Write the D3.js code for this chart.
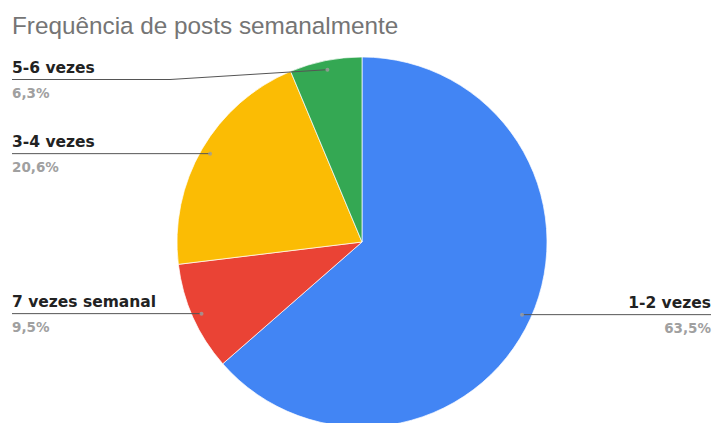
<!DOCTYPE html>
<html>
<head>
<meta charset="utf-8">
<script src="https://cdn.jsdelivr.net/npm/d3@7"></script>
<style>
  html, body { margin: 0; padding: 0; background: #fff; }
  svg { display: block; }
</style>
</head>
<body>
<svg id="chart" width="714" height="423"></svg>
<script>
// Weekly posting frequency
const categories = ["1-2 vezes", "7 vezes semanal", "3-4 vezes", "5-6 vezes"];
const values = [63.5, 9.5, 20.6, 6.3];
const colors = ["#4285F4", "#EA4335", "#FBBC04", "#34A853"];
const title = "Frequência de posts semanalmente";

const W = 714, H = 423;
const cx = 362, cy = 242, R = 185;
const labelLeftX = 12, labelRightX = 711;
const labelMinY = 79.5;      // label lines are kept below the title band
const elbowX = 170;          // where a raised leader bends toward its slice

const svg = d3.select("#chart");

svg.append("text")
  .attr("x", 12).attr("y", 34)
  .attr("fill", "#757575")
  .style("font-family", "'Liberation Sans', Arial, sans-serif")
  .style("font-size", "24.3px")
  .text(title);

const pie = d3.pie().sort(null).value(d => d.value);
const data = categories.map((c, i) => ({ name: c, value: values[i], color: colors[i] }));
const arcs = pie(data);

const arc = d3.arc().innerRadius(0).outerRadius(R);
const dotArc = d3.arc().innerRadius(R * 0.95).outerRadius(R * 0.95);

const g = svg.append("g").attr("transform", `translate(${cx},${cy})`);

g.selectAll("path.slice")
  .data(arcs)
  .join("path")
  .attr("class", "slice")
  .attr("d", arc)
  .attr("fill", d => d.data.color)
  .attr("stroke", "#fff")
  .attr("stroke-width", 0.7);

const fmt = v => d3.format(".1f")(v).replace(".", ",") + "%";

arcs.forEach(a => {
  const [dx, dy] = dotArc.centroid(a);
  const px = cx + dx, py = cy + dy;
  const mid = (a.startAngle + a.endAngle) / 2;
  const right = mid < Math.PI;
  const ly = Math.max(py, labelMinY);

  let pts;
  if (right) {
    pts = [[px, py], [labelRightX, ly]];
  } else if (ly !== py) {
    pts = [[px, py], [elbowX, ly], [labelLeftX, ly]];
  } else {
    pts = [[px, py], [labelLeftX, ly]];
  }

  svg.append("path")
    .attr("d", d3.line()(pts))
    .attr("fill", "none")
    .attr("stroke", "#555")
    .attr("stroke-width", 1);

  svg.append("circle")
    .attr("cx", px).attr("cy", py).attr("r", 2)
    .attr("fill", "#9e9e9e")
    .attr("opacity", 0.8);

  const tx = right ? labelRightX : labelLeftX;
  const anchor = right ? "end" : "start";

  svg.append("text")
    .attr("x", tx).attr("y", ly - 6.5)
    .attr("text-anchor", anchor)
    .attr("fill", "#222")
    .style("font-family", "'DejaVu Sans', sans-serif")
    .style("font-weight", "bold")
    .style("font-size", "15.5px")
    .text(a.data.name);

  svg.append("text")
    .attr("x", tx).attr("y", ly + 18)
    .attr("text-anchor", anchor)
    .attr("fill", "#a0a0a0")
    .style("font-family", "'DejaVu Sans', sans-serif")
    .style("font-weight", "bold")
    .style("font-size", "13.5px")
    .text(fmt(a.data.value));
});
</script>
</body>
</html>
